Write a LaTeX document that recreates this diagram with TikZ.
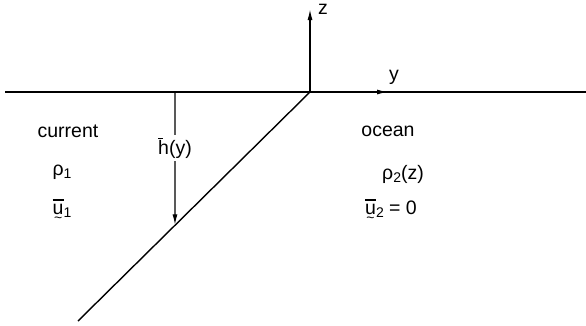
\documentclass[tikz,border=0pt]{standalone}
\usepackage{fontspec}
\setmainfont{Liberation Sans}
\usetikzlibrary{positioning,arrows.meta,calc}

\newcommand{\barsym}[2]{\setbox0\hbox{#1}\leavevmode\rlap{\raisebox{0.78em}{\rule{#2\wd0}{0.07em}}}#1}
\newcommand{\vecsym}[1]{\setbox0\hbox{#1}\leavevmode\rlap{\raisebox{-0.42em}{\hbox to\wd0{\hss\fontsize{14}{14}\selectfont\textasciitilde\hss}}}\rlap{\raisebox{0.72em}{\rule{\wd0}{0.07em}}}#1}
\newcommand{\sub}[1]{\raisebox{-0.3ex}{\fontsize{14}{14}\selectfont #1}}

\begin{document}
\begin{tikzpicture}[x=1pt,y=-1pt,
			axis/.style={line width=1.4pt},
			arrow/.style={-{Latex[length=11pt,width=5pt]}, line width=1.4pt},
			label/.style={font=\fontsize{19.5}{22}\selectfont, inner sep=1pt}
		]
		\useasboundingbox (0,0) rectangle (586,325);
		% Axes
		\coordinate (O) at (310,92);
		\coordinate (surfL) at (5,92);
		\coordinate (surfR) at (586,92);
		\coordinate (zTop) at (310,9);
		\coordinate (yTip) at (388,92);
		\coordinate (front) at (78,321);
		\draw[axis] (surfL) -- (surfR);
		\draw[arrow] (O) -- (zTop);
		\draw[arrow] (O) -- (yTip);
		\draw[axis] (O) -- (front);
		\node[label] (zlab) at (323,9) {z};
		\node[label] (ylab) at (394,77) {y};

		% Depth
		\coordinate (hTop) at (175,92);
		\coordinate (hBot) at ($(O)!0.582!(front)$);
		\draw[arrow] (hTop) -- (hBot) node[label, pos=0.42, fill=white, inner ysep=3pt] (hlab) {\barsym{h}{0.45}(y)};

		% Current side
		\node[label] (current) at (68,131) {current};
		\node[label] (rho1) at (62,172) {ρ\sub{1}};
		\node[label] (u1) at (62,211) {\vecsym{u}\sub{1}};

		% Ocean side
		\node[label] (ocean) at (388,131) {ocean};
		\node[label] (rho2) at (403,174) {ρ\sub{2}(z)};
		\node[label] (u2) at (391,211) {\vecsym{u}\sub{2} = 0};
	\end{tikzpicture}
\end{document}
